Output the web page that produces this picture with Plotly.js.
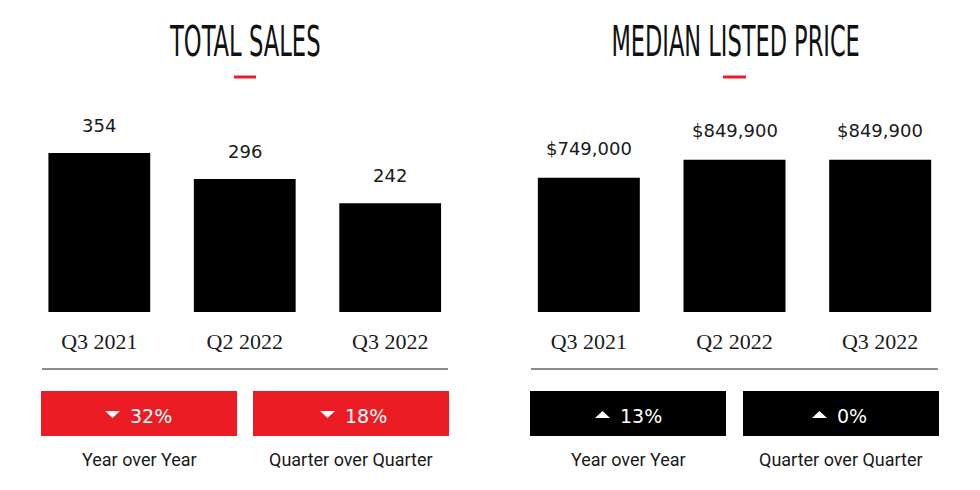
<!DOCTYPE html>
<html>
<head>
<meta charset="utf-8">
<script src="https://cdn.plot.ly/plotly-3.0.1.min.js"></script>
<style>
html,body{margin:0;padding:0;background:#fff;}
#chart{width:980px;height:490px;}
</style>
</head>
<body>
<div id="chart"></div>
<script>
// ---- data ----
const categories = ['Q3 2021', 'Q2 2022', 'Q3 2022'];
const totalSales = [354, 296, 242];
const salesLabels = ['354', '296', '242'];
const medianPrice = [749000, 849900, 849900];
const priceLabels = ['$749,000', '$849,900', '$849,900'];
const chartTitles = ['TOTAL SALES', 'MEDIAN LISTED PRICE'];
const changePeriods = ['Year over Year', 'Quarter over Quarter'];
const salesChange = ['32%', '18%'];
const salesChangeDir = ['down', 'down'];
const priceChange = ['13%', '0%'];
const priceChangeDir = ['up', 'up'];

// ---- styles ----
const RED = '#ec1c24';
const BLACK = '#000000';
const numFont = {family: 'DejaVu Sans, sans-serif', size: 18, color: '#1a1a1a'};
const catFont = {family: 'Liberation Serif, serif', size: 22, color: '#1a1a1a'};
const lblFont = {family: 'Roboto, sans-serif', size: 18, color: '#1a1a1a'};
const titleFont = {family: 'DejaVu Sans Condensed, sans-serif', size: 42, color: '#111111'};

const px = v => v / 980;
const py = v => (490 - v) / 490;

const traces = [
  {type: 'bar', x: categories, y: totalSales, xaxis: 'x', yaxis: 'y',
   marker: {color: BLACK}, hoverinfo: 'skip', showlegend: false},
  {type: 'bar', x: categories, y: medianPrice, xaxis: 'x2', yaxis: 'y2',
   marker: {color: BLACK}, hoverinfo: 'skip', showlegend: false}
];

const axisX = dom => ({domain: dom, showgrid: false, zeroline: false, showline: false,
  ticks: '', tickfont: catFont, ticklabelstandoff: 14, fixedrange: true});
const axisY = (rng) => ({domain: [py(312), py(100)], range: rng, showgrid: false,
  zeroline: false, showline: false, showticklabels: false, ticks: '', fixedrange: true});

const annotations = [];
// bar value labels
categories.forEach((c, i) => {
  annotations.push({xref: 'x', yref: 'y', x: c, y: totalSales[i], text: salesLabels[i],
    showarrow: false, yanchor: 'bottom', yshift: 15, font: numFont});
  annotations.push({xref: 'x2', yref: 'y2', x: c, y: medianPrice[i], text: priceLabels[i],
    showarrow: false, yanchor: 'bottom', yshift: 17, font: numFont});
});
// titles
annotations.push({xref: 'paper', yref: 'paper', x: px(245), y: py(41), text: chartTitles[0],
  showarrow: false, xanchor: 'center', yanchor: 'middle', font: titleFont});
annotations.push({xref: 'paper', yref: 'paper', x: px(735), y: py(41), text: chartTitles[1],
  showarrow: false, xanchor: 'center', yanchor: 'middle', font: titleFont});

// change boxes (triX = left edge of the arrow triangle inside the box)
const boxes = [
  {x0: 41, x1: 237, color: RED, triX: 105, txt: salesChange[0], dir: salesChangeDir[0], lbl: changePeriods[0]},
  {x0: 253, x1: 449, color: RED, triX: 320, txt: salesChange[1], dir: salesChangeDir[1], lbl: changePeriods[1]},
  {x0: 530, x1: 726, color: BLACK, triX: 595, txt: priceChange[0], dir: priceChangeDir[0], lbl: changePeriods[0]},
  {x0: 743, x1: 939, color: BLACK, triX: 812, txt: priceChange[1], dir: priceChangeDir[1], lbl: changePeriods[1]}
];
const shapes = [];
boxes.forEach(b => {
  shapes.push({type: 'rect', xref: 'paper', yref: 'paper', x0: px(b.x0), x1: px(b.x1),
    y0: py(436), y1: py(391), fillcolor: b.color, line: {width: 0}});
  const tx0 = px(b.triX), tx1 = px(b.triX + 15), txc = px(b.triX + 7.5);
  const ytop = py(411), ybot = py(418);
  const path = b.dir === 'down'
    ? `M ${tx0} ${ytop} L ${tx1} ${ytop} L ${txc} ${ybot} Z`
    : `M ${tx0} ${ybot} L ${tx1} ${ybot} L ${txc} ${ytop} Z`;
  shapes.push({type: 'path', xref: 'paper', yref: 'paper', path: path,
    fillcolor: '#ffffff', line: {width: 0}});
  annotations.push({xref: 'paper', yref: 'paper', x: px(b.triX + 23), y: py(416),
    text: b.txt, showarrow: false, xanchor: 'left', yanchor: 'middle',
    font: {family: 'DejaVu Sans, sans-serif', size: 19, color: '#ffffff'}});
  annotations.push({xref: 'paper', yref: 'paper', x: px((b.x0 + b.x1) / 2), y: py(459),
    text: b.lbl, showarrow: false, xanchor: 'center', yanchor: 'middle', font: lblFont});
});
// separator lines
shapes.push({type: 'line', xref: 'paper', yref: 'paper', x0: px(42), x1: px(448), y0: py(369), y1: py(369),
  line: {color: '#8c8c8c', width: 2}});
shapes.push({type: 'line', xref: 'paper', yref: 'paper', x0: px(531), x1: px(938), y0: py(369), y1: py(369),
  line: {color: '#8c8c8c', width: 2}});
// red underlines under titles
shapes.push({type: 'line', xref: 'paper', yref: 'paper', x0: px(234), x1: px(256), y0: py(77), y1: py(77),
  line: {color: RED, width: 3}});
shapes.push({type: 'line', xref: 'paper', yref: 'paper', x0: px(723), x1: px(746), y0: py(77), y1: py(77),
  line: {color: RED, width: 3}});

const layout = {
  width: 980, height: 490,
  margin: {l: 0, r: 0, t: 0, b: 0},
  paper_bgcolor: '#ffffff', plot_bgcolor: '#ffffff',
  bargap: 0.3,
  showlegend: false,
  xaxis: axisX([px(26.6), px(462.9)]),
  yaxis: axisY([0, 472]),
  xaxis2: Object.assign(axisX([px(516), px(953)]), {anchor: 'y2'}),
  yaxis2: Object.assign(axisY([0, 1183000]), {anchor: 'x2'}),
  annotations: annotations,
  shapes: shapes
};
layout.yaxis.anchor = 'x';

Plotly.newPlot('chart', traces, layout, {displayModeBar: false, staticPlot: true}).then(() => {
  // narrow the display-style titles horizontally (condensed headline look)
  const widths = {};
  widths[chartTitles[0]] = 153;
  widths[chartTitles[1]] = 250;
  document.querySelectorAll('#chart g.annotation').forEach(g => {
    const t = g.querySelector('.annotation-text');
    if (!t) return;
    const w = widths[t.textContent];
    if (!w) return;
    const bb = g.getBBox();
    const s = w / bb.width;
    const cx = bb.x + bb.width / 2;
    g.setAttribute('transform', `translate(${cx} 0) scale(${s} 1) translate(${-cx} 0)`);
  });
});
</script>
</body>
</html>
